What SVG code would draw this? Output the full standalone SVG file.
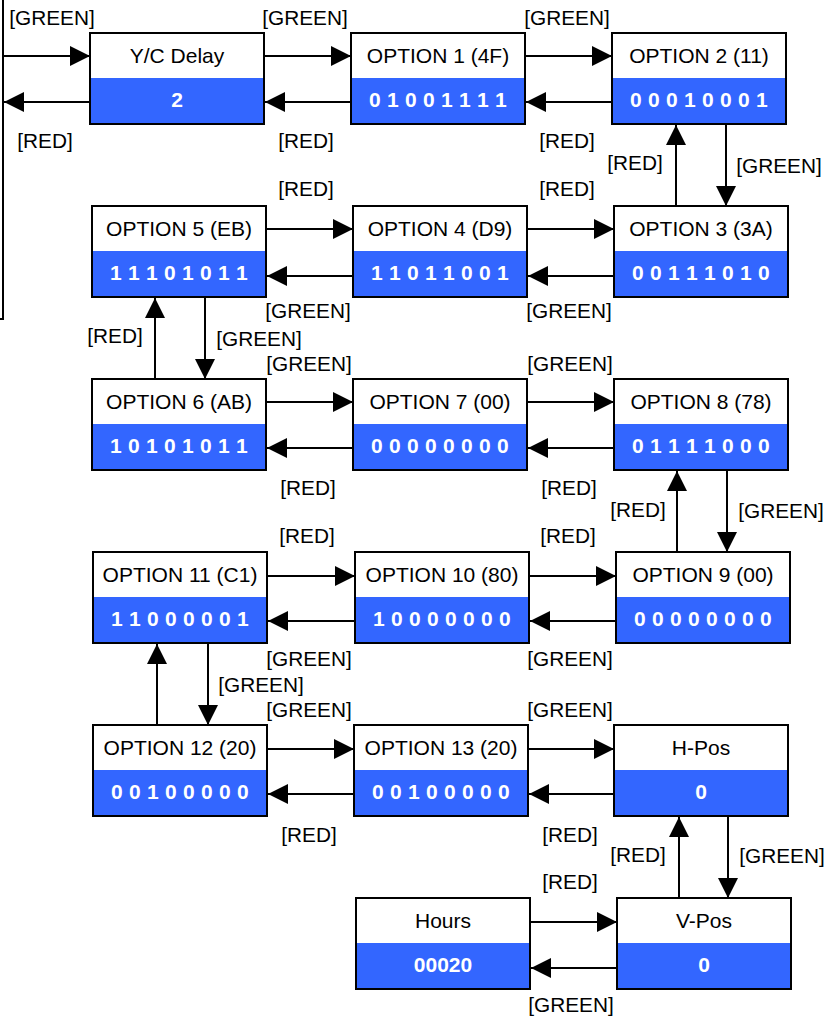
<svg xmlns="http://www.w3.org/2000/svg" width="839" height="1017" viewBox="0 0 839 1017">
<style>
.box{fill:#fff;stroke:none}
.val{fill:#3366ff;stroke:none}
.frame{fill:none;stroke:#000;stroke-width:2}
.t{font-family:"Liberation Sans",Arial,sans-serif;font-size:21px;fill:#000;text-anchor:middle}
.v{font-family:"Liberation Sans",Arial,sans-serif;font-size:21px;font-weight:bold;fill:#fff;text-anchor:middle}
.b{letter-spacing:0.25px}
.c{fill:none;stroke:#000;stroke-width:2;marker-end:url(#ah)}
.l{font-family:"Liberation Sans",Arial,sans-serif;font-size:20.8px;fill:#000;text-anchor:middle}
</style>
<defs>
<marker id="ah" markerUnits="userSpaceOnUse" markerWidth="20" markerHeight="20" viewBox="0 0 20 20" refX="20" refY="10" orient="auto">
<path d="M0,0 L20,10 L0,20 Z" fill="#000"/>
</marker>
</defs>
<rect width="839" height="1017" fill="#fff"/>

<g id="nodes">
<g id="yc"><rect class="box" x="90" y="33" width="174" height="91"/><rect class="val" x="90" y="78" width="174" height="46"/><rect class="frame" x="90" y="33" width="174" height="91"/><text class="t" x="177" y="63">Y/C Delay</text><text class="v" x="177" y="107">2</text></g>
<g id="opt1"><rect class="box" x="351" y="33" width="174" height="91"/><rect class="val" x="351" y="78" width="174" height="46"/><rect class="frame" x="351" y="33" width="174" height="91"/><text class="t" x="438" y="63">OPTION 1 (4F)</text><text class="v b" x="438" y="107">0 1 0 0 1 1 1 1</text></g>
<g id="opt2"><rect class="box" x="612" y="33" width="174" height="91"/><rect class="val" x="612" y="78" width="174" height="46"/><rect class="frame" x="612" y="33" width="174" height="91"/><text class="t" x="699" y="63">OPTION 2 (11)</text><text class="v b" x="699" y="107">0 0 0 1 0 0 0 1</text></g>

<g id="opt5"><rect class="box" x="92" y="206" width="174" height="91"/><rect class="val" x="92" y="251" width="174" height="46"/><rect class="frame" x="92" y="206" width="174" height="91"/><text class="t" x="179" y="236">OPTION 5 (EB)</text><text class="v b" x="179" y="280">1 1 1 0 1 0 1 1</text></g>
<g id="opt4"><rect class="box" x="353" y="206" width="174" height="91"/><rect class="val" x="353" y="251" width="174" height="46"/><rect class="frame" x="353" y="206" width="174" height="91"/><text class="t" x="440" y="236">OPTION 4 (D9)</text><text class="v b" x="440" y="280">1 1 0 1 1 0 0 1</text></g>
<g id="opt3"><rect class="box" x="614" y="206" width="174" height="91"/><rect class="val" x="614" y="251" width="174" height="46"/><rect class="frame" x="614" y="206" width="174" height="91"/><text class="t" x="701" y="236">OPTION 3 (3A)</text><text class="v b" x="701" y="280">0 0 1 1 1 0 1 0</text></g>

<g id="opt6"><rect class="box" x="92" y="379" width="174" height="91"/><rect class="val" x="92" y="424" width="174" height="46"/><rect class="frame" x="92" y="379" width="174" height="91"/><text class="t" x="179" y="409">OPTION 6 (AB)</text><text class="v b" x="179" y="453">1 0 1 0 1 0 1 1</text></g>
<g id="opt7"><rect class="box" x="353" y="379" width="174" height="91"/><rect class="val" x="353" y="424" width="174" height="46"/><rect class="frame" x="353" y="379" width="174" height="91"/><text class="t" x="440" y="409">OPTION 7 (00)</text><text class="v b" x="440" y="453">0 0 0 0 0 0 0 0</text></g>
<g id="opt8"><rect class="box" x="614" y="379" width="174" height="91"/><rect class="val" x="614" y="424" width="174" height="46"/><rect class="frame" x="614" y="379" width="174" height="91"/><text class="t" x="701" y="409">OPTION 8 (78)</text><text class="v b" x="701" y="453">0 1 1 1 1 0 0 0</text></g>

<g id="opt11"><rect class="box" x="93" y="552" width="174" height="91"/><rect class="val" x="93" y="597" width="174" height="46"/><rect class="frame" x="93" y="552" width="174" height="91"/><text class="t" x="180" y="582">OPTION 11 (C1)</text><text class="v b" x="180" y="626">1 1 0 0 0 0 0 1</text></g>
<g id="opt10"><rect class="box" x="355" y="552" width="174" height="91"/><rect class="val" x="355" y="597" width="174" height="46"/><rect class="frame" x="355" y="552" width="174" height="91"/><text class="t" x="442" y="582">OPTION 10 (80)</text><text class="v b" x="442" y="626">1 0 0 0 0 0 0 0</text></g>
<g id="opt9"><rect class="box" x="616" y="552" width="174" height="91"/><rect class="val" x="616" y="597" width="174" height="46"/><rect class="frame" x="616" y="552" width="174" height="91"/><text class="t" x="703" y="582">OPTION 9 (00)</text><text class="v b" x="703" y="626">0 0 0 0 0 0 0 0</text></g>

<g id="opt12"><rect class="box" x="93" y="725" width="174" height="91"/><rect class="val" x="93" y="770" width="174" height="46"/><rect class="frame" x="93" y="725" width="174" height="91"/><text class="t" x="180" y="755">OPTION 12 (20)</text><text class="v b" x="180" y="799">0 0 1 0 0 0 0 0</text></g>
<g id="opt13"><rect class="box" x="354" y="725" width="174" height="91"/><rect class="val" x="354" y="770" width="174" height="46"/><rect class="frame" x="354" y="725" width="174" height="91"/><text class="t" x="441" y="755">OPTION 13 (20)</text><text class="v b" x="441" y="799">0 0 1 0 0 0 0 0</text></g>
<g id="hpos"><rect class="box" x="614" y="725" width="174" height="91"/><rect class="val" x="614" y="770" width="174" height="46"/><rect class="frame" x="614" y="725" width="174" height="91"/><text class="t" x="701" y="755">H-Pos</text><text class="v" x="701" y="799">0</text></g>

<g id="hours"><rect class="box" x="356" y="898" width="174" height="91"/><rect class="val" x="356" y="943" width="174" height="46"/><rect class="frame" x="356" y="898" width="174" height="91"/><text class="t" x="443" y="928">Hours</text><text class="v" x="443" y="972">00020</text></g>
<g id="vpos"><rect class="box" x="617" y="898" width="174" height="91"/><rect class="val" x="617" y="943" width="174" height="46"/><rect class="frame" x="617" y="898" width="174" height="91"/><text class="t" x="704" y="928">V-Pos</text><text class="v" x="704" y="972">0</text></g>
</g>

<g id="connectors">
<polyline points="3,0 3,319 0,319" fill="none" stroke="#000" stroke-width="2"/>
<line class="c" x1="3" y1="56" x2="90" y2="56"/>
<line class="c" x1="90" y1="102" x2="4" y2="102"/>
<line class="c" x1="264" y1="56" x2="351" y2="56"/>
<line class="c" x1="351" y1="102" x2="265" y2="102"/>
<line class="c" x1="525" y1="56" x2="612" y2="56"/>
<line class="c" x1="612" y1="102" x2="526" y2="102"/>
<line class="c" x1="726" y1="124" x2="726" y2="206"/>
<line class="c" x1="676" y1="206" x2="676" y2="125"/>

<line class="c" x1="266" y1="229" x2="353" y2="229"/>
<line class="c" x1="527" y1="229" x2="614" y2="229"/>
<line class="c" x1="614" y1="276" x2="528" y2="276"/>
<line class="c" x1="353" y1="276" x2="267" y2="276"/>
<line class="c" x1="205" y1="297" x2="205" y2="379"/>
<line class="c" x1="155" y1="379" x2="155" y2="298"/>

<line class="c" x1="266" y1="402" x2="353" y2="402"/>
<line class="c" x1="527" y1="402" x2="614" y2="402"/>
<line class="c" x1="614" y1="448" x2="528" y2="448"/>
<line class="c" x1="353" y1="448" x2="267" y2="448"/>
<line class="c" x1="727" y1="470" x2="727" y2="552"/>
<line class="c" x1="677" y1="552" x2="677" y2="471"/>

<line class="c" x1="267" y1="576" x2="355" y2="576"/>
<line class="c" x1="529" y1="576" x2="616" y2="576"/>
<line class="c" x1="616" y1="621" x2="530" y2="621"/>
<line class="c" x1="355" y1="621" x2="268" y2="621"/>
<line class="c" x1="208" y1="643" x2="208" y2="725"/>
<line class="c" x1="157" y1="725" x2="157" y2="644"/>

<line class="c" x1="267" y1="749" x2="354" y2="749"/>
<line class="c" x1="528" y1="749" x2="614" y2="749"/>
<line class="c" x1="614" y1="794" x2="529" y2="794"/>
<line class="c" x1="354" y1="794" x2="268" y2="794"/>
<line class="c" x1="728" y1="816" x2="728" y2="898"/>
<line class="c" x1="679" y1="898" x2="679" y2="817"/>

<line class="c" x1="530" y1="922" x2="617" y2="922"/>
<line class="c" x1="617" y1="968" x2="531" y2="968"/>
</g>

<g id="labels">
<text class="l" x="52" y="25">[GREEN]</text>
<text class="l" x="305" y="25">[GREEN]</text>
<text class="l" x="567" y="25">[GREEN]</text>
<text class="l" x="45" y="148">[RED]</text>
<text class="l" x="306" y="148">[RED]</text>
<text class="l" x="567" y="148">[RED]</text>
<text class="l" x="635" y="170">[RED]</text>
<text class="l" x="779" y="173">[GREEN]</text>

<text class="l" x="306" y="196">[RED]</text>
<text class="l" x="567" y="196">[RED]</text>
<text class="l" x="308" y="318">[GREEN]</text>
<text class="l" x="569" y="318">[GREEN]</text>
<text class="l" x="115" y="343">[RED]</text>
<text class="l" x="259" y="346">[GREEN]</text>

<text class="l" x="309" y="371">[GREEN]</text>
<text class="l" x="570" y="371">[GREEN]</text>
<text class="l" x="308" y="495">[RED]</text>
<text class="l" x="569" y="495">[RED]</text>
<text class="l" x="638" y="517">[RED]</text>
<text class="l" x="781" y="518">[GREEN]</text>

<text class="l" x="307" y="543">[RED]</text>
<text class="l" x="568" y="543">[RED]</text>
<text class="l" x="309" y="666">[GREEN]</text>
<text class="l" x="570" y="666">[GREEN]</text>
<text class="l" x="261" y="692">[GREEN]</text>

<text class="l" x="309" y="717">[GREEN]</text>
<text class="l" x="570" y="717">[GREEN]</text>
<text class="l" x="309" y="842">[RED]</text>
<text class="l" x="570" y="842">[RED]</text>
<text class="l" x="638" y="862">[RED]</text>
<text class="l" x="782" y="863">[GREEN]</text>

<text class="l" x="570" y="889">[RED]</text>
<text class="l" x="571" y="1012">[GREEN]</text>
</g>
</svg>
